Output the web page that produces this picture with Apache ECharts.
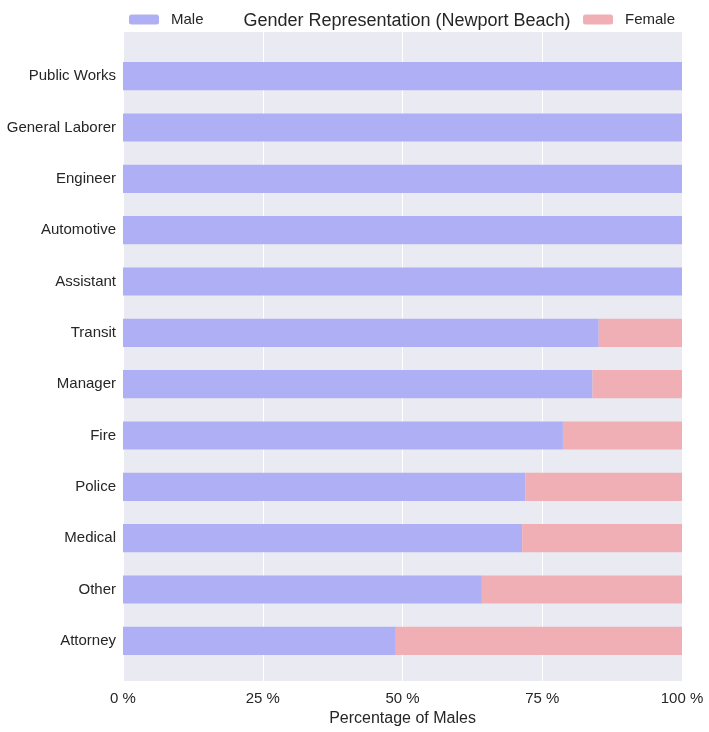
<!DOCTYPE html>
<html><head><meta charset="utf-8">
<script src="https://cdn.jsdelivr.net/npm/echarts@6/dist/echarts.min.js"></script>
<style>html,body{margin:0;padding:0;background:#fff}#c{width:709px;height:732px}</style>
</head><body><div id="c"></div>
<script>
const categories = ['Attorney','Other','Medical','Police','Fire','Manager','Transit','Assistant','Automotive','Engineer','General Laborer','Public Works'];
const maleValues = [48.8, 64.2, 71.4, 72.0, 78.7, 84.0, 85.1, 100, 100, 100, 100, 100];
const femaleValues = [51.2, 35.8, 28.6, 28.0, 21.3, 16.0, 14.9, 0, 0, 0, 0, 0];
const xTicks = [0, 25, 50, 75, 100];

const font = 'Liberation Sans, Arial, sans-serif';
const txt = '#262626';
const chart = echarts.init(document.getElementById('c'), null, {renderer:'canvas'});
chart.setOption({
  animation: false,
  title: {
    text: 'Gender Representation (Newport Beach)',
    left: 402, top: 7, textAlign: 'center',
    textStyle: {fontFamily: font, fontSize: 18, fontWeight: 'normal', color: txt}
  },
  legend: [
    {data: ['Male'], left: 124, top: 7, itemWidth: 30, itemHeight: 10,
     textStyle: {fontFamily: font, fontSize: 15, color: txt, padding: [0,0,0,7]}},
    {data: ['Female'], left: 578, top: 7, itemWidth: 30, itemHeight: 10,
     textStyle: {fontFamily: font, fontSize: 15, color: txt, padding: [0,0,0,7]}}
  ],
  grid: [
    {left: 123, right: 27, top: 32, bottom: 47, show: true, backgroundColor: '#EAEAF2', borderWidth: 0},
    {left: 123, right: 27, top: 50.5, bottom: 65.5}
  ],
  xAxis: [
    {
      type: 'value', gridIndex: 0, min: 0, max: 100, interval: 25,
      name: 'Percentage of Males', nameLocation: 'middle', nameGap: 28,
      nameTextStyle: {fontFamily: font, fontSize: 16, color: txt},
      axisLine: {show: false}, axisTick: {show: false},
      axisLabel: {fontFamily: font, fontSize: 15, color: txt, margin: 10,
        formatter: v => xTicks.includes(v) ? v + ' %' : ''},
      splitLine: {show: true, lineStyle: {color: '#ffffff', width: 1}}
    },
    {
      type: 'value', gridIndex: 1, min: 0, max: 100, interval: 25, show: false,
      splitLine: {show: false}
    }
  ],
  yAxis: [
    {type: 'value', gridIndex: 0, show: false, splitLine: {show: false}},
    {
      type: 'category', gridIndex: 1, data: categories,
      axisLine: {show: false}, axisTick: {show: false},
      axisLabel: {fontFamily: font, fontSize: 15, color: txt, margin: 7, padding: [4,0,0,0]},
      splitLine: {show: false}
    }
  ],
  series: [
    {name: 'Male', type: 'bar', stack: 'g', xAxisIndex: 1, yAxisIndex: 1, data: maleValues, barWidth: '55%',
     itemStyle: {color: '#AEAFF4'}},
    {name: 'Female', type: 'bar', stack: 'g', xAxisIndex: 1, yAxisIndex: 1, data: femaleValues, barWidth: '55%',
     itemStyle: {color: '#F0AFB5'}}
  ]
});
</script></body></html>
